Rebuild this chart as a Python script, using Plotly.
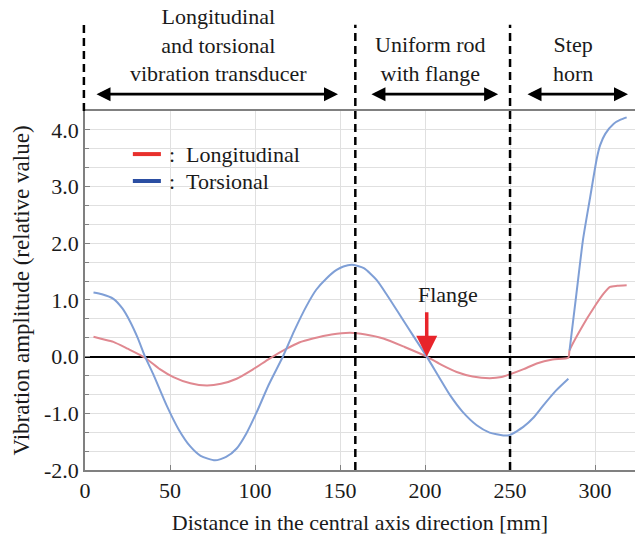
import plotly.graph_objects as go

# ---- data ----
tors_x1 = [5, 10, 16.7, 22, 26.5, 31, 35.3, 40, 48, 55, 61.8, 68, 76.5, 83, 89.2, 95, 101, 108,
           116.7, 123, 130.4, 136, 142, 148, 152, 157, 164, 171.6, 178, 185.3, 193, 201, 208,
           214.7, 222, 230.4, 238, 246, 250, 257.8, 264, 269.6, 277, 284.3]
tors_y1 = [1.13, 1.10, 1.02, 0.85, 0.62, 0.33, 0.0, -0.30, -0.86, -1.28, -1.58, -1.75, -1.83, -1.77,
           -1.62, -1.35, -0.98, -0.50, 0.02, 0.45, 0.90, 1.18, 1.38, 1.53, 1.59, 1.62, 1.56, 1.35,
           1.07, 0.73, 0.37, 0.0, -0.35, -0.68, -0.97, -1.21, -1.34, -1.39, -1.38, -1.24, -1.07,
           -0.86, -0.60, -0.39]
tors_x2 = [285, 289, 293, 297, 301, 303, 306, 311, 315, 318.6]
tors_y2 = [0.11, 1.10, 2.08, 2.79, 3.49, 3.73, 3.93, 4.11, 4.18, 4.22]

long_x = [5, 10, 16.7, 25, 35.3, 44, 52, 62, 71.6, 80, 89.2, 99, 108.8, 118.6, 126, 134, 145, 156,
          165, 175.5, 188, 201, 210, 218.6, 228, 238, 245, 250, 258, 265.7, 275, 284.3, 285, 293,
          299, 305, 308.8, 313, 318.6]
long_y = [0.35, 0.31, 0.26, 0.14, -0.02, -0.22, -0.36, -0.47, -0.51, -0.48, -0.39, -0.22, -0.03,
          0.14, 0.25, 0.32, 0.39, 0.42, 0.39, 0.32, 0.17, 0.0, -0.15, -0.27, -0.35, -0.38, -0.36,
          -0.31, -0.22, -0.12, -0.05, -0.02, 0.11, 0.56, 0.85, 1.11, 1.23, 1.25, 1.26]

series_names = ["Longitudinal", "Torsional"]
section_bounds = [0, 159, 250]
section_labels = ["Longitudinal<br>and torsional<br>vibration transducer",
                  "Uniform rod<br>with flange", "Step<br>horn"]
section_label_x = [78.6, 203, 287]
section_arrow_start = [5.9, 167.6, 259.4]
section_arrow_end = [148.8, 243, 319.4]
flange_x = 201
y_ticks = [-2, -1, 0, 1, 2, 3, 4]
x_ticks = [0, 50, 100, 150, 200, 250, 300]

FONT = "Liberation Serif, Times New Roman, serif"
TXT = "#1a1a1a"
LINE_COLORS = ["#e08890", "#7f9fd6"]
KEY_COLORS = ["#e8302c", "#2b4ea2"]

fig = go.Figure()
fig.add_trace(go.Scatter(x=long_x, y=long_y, mode="lines", name=series_names[0], showlegend=False,
                         line=dict(color=LINE_COLORS[0], width=2, shape="spline", smoothing=0.6)))
fig.add_trace(go.Scatter(x=tors_x1 + [None] + tors_x2, y=tors_y1 + [None] + tors_y2,
                         mode="lines", name=series_names[1], showlegend=False, connectgaps=False,
                         line=dict(color=LINE_COLORS[1], width=2, shape="spline", smoothing=0.6)))

shapes = []
for i, xb in enumerate(section_bounds):
    if i == 0:
        shapes.append(dict(type="line", xref="paper", yref="paper", x0=-0.002, x1=-0.002,
                           y0=1.0, y1=1.24, line=dict(color="black", width=2.5, dash="8px,5px")))
    else:
        shapes.append(dict(type="line", xref="x", yref="paper", x0=xb, x1=xb, y0=0, y1=1.24,
                           line=dict(color="black", width=2.5, dash="8px,5px")))

# key box (drawn as a small hand-made legend, as in the reference)
shapes.append(dict(type="rect", xref="paper", yref="paper", x0=0.069, x1=0.409, y0=0.765,
                   y1=0.918, fillcolor="white", line=dict(width=0), layer="between"))
key_y = [0.880, 0.805]
annotations = []
for name, col, ky in zip(series_names, KEY_COLORS, key_y):
    shapes.append(dict(type="line", xref="paper", yref="paper", x0=0.087, x1=0.138, y0=ky, y1=ky,
                       line=dict(color=col, width=4)))
    annotations.append(dict(text=":\u00a0\u00a0" + name, x=0.149, y=ky, xref="paper", yref="paper",
                            xanchor="left", yanchor="middle", showarrow=False,
                            font=dict(family=FONT, size=22, color=TXT)))

label_y = [1.184, 1.146, 1.146]
for lbl, lx, ly in zip(section_labels, section_label_x, label_y):
    annotations.append(dict(text=lbl, x=lx, xref="x", y=ly, yref="paper", yanchor="middle",
                            showarrow=False, font=dict(family=FONT, size=22, color=TXT)))
for a0, a1 in zip(section_arrow_start, section_arrow_end):
    annotations.append(dict(text="", x=a1, y=1.047, xref="x", yref="paper", ax=a0, ay=0,
                            axref="x", ayref="pixel", showarrow=True, arrowhead=2,
                            arrowside="end+start", arrowsize=1, arrowwidth=2.8,
                            arrowcolor="black", standoff=0, startstandoff=0))
annotations.append(dict(text="", x=flange_x, y=0, xref="x", yref="y", ax=flange_x, ay=0.81,
                        axref="x", ayref="y", showarrow=True, arrowhead=2, arrowsize=1.2,
                        arrowwidth=3.5, arrowcolor="#e8242a", standoff=0))
annotations.append(dict(text="Flange", x=213.5, y=1.1, xref="x", yref="y", showarrow=False,
                        font=dict(family=FONT, size=22, color=TXT)))

fig.update_layout(
    width=635, height=536,
    margin=dict(l=85, r=0, t=111, b=66),
    paper_bgcolor="white", plot_bgcolor="white",
    font=dict(family=FONT, size=22, color=TXT),
    shapes=shapes, annotations=annotations, showlegend=False,
    xaxis=dict(range=[0, 323.5], tickvals=x_ticks, ticktext=[str(v) for v in x_ticks],
               tickfont=dict(family=FONT, size=22, color=TXT),
               showgrid=True, gridcolor="#e0e0e0", gridwidth=1,
               showline=True, linecolor="#808080", linewidth=1.5, mirror=True,
               ticks="inside", ticklen=5, tickcolor="#808080", zeroline=False,
               title=dict(text="Distance in the central axis direction [mm]",
                          font=dict(family=FONT, size=22, color=TXT), standoff=12)),
    yaxis=dict(range=[-2, 4.3333], tickvals=y_ticks, ticktext=[f"{v:.1f}" for v in y_ticks],
               tickfont=dict(family=FONT, size=22, color=TXT),
               showgrid=True, gridcolor="#e0e0e0", gridwidth=1,
               minor=dict(dtick=1/3, tick0=0, showgrid=True, gridcolor="#e0e0e0",
                          ticks="inside", ticklen=4, tickcolor="#808080"),
               showline=True, linecolor="#808080", linewidth=1.5,
               ticks="inside", ticklen=5, tickcolor="#808080",
               zeroline=True, zerolinecolor="black", zerolinewidth=2,
               title=dict(text="Vibration amplitude (relative value)",
                          font=dict(family=FONT, size=23, color=TXT), standoff=8)),
)

fig.write_html("out.html", config={"displayModeBar": False},
               post_script="document.body.style.margin='0';")
